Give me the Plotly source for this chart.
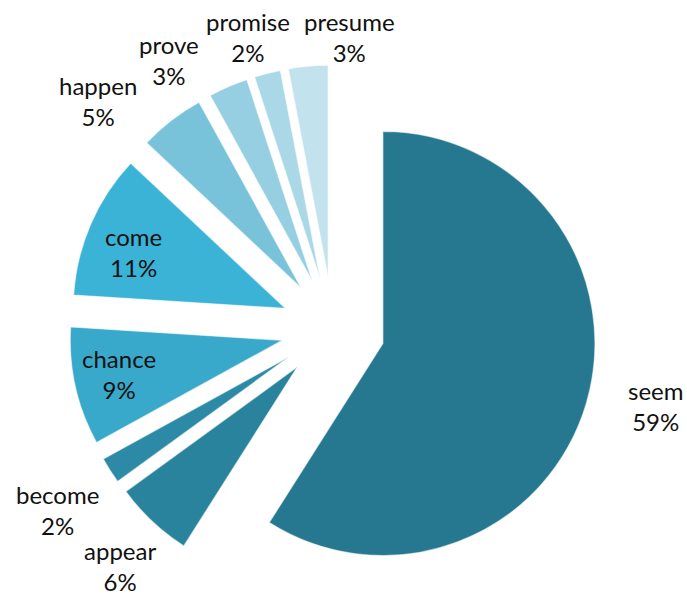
import plotly.graph_objects as go

labels = ["seem", "appear", "become", "chance", "come", "happen", "prove", "promise", "presume"]
values = [59, 6, 2, 9, 11, 5, 3, 2, 3]
colors = ["#257890", "#2a839c", "#2d8aa6", "#38a9cb", "#3bb3d7", "#79c3da", "#95cfe1", "#aad8e7", "#c2e2ed"]

# label block centers in pixels (x, y from top)
label_pos = [(655, 406), (120, 566), (57, 510), (119, 374), (133, 252),
             (98, 101), (169, 60), (248, 37), (349, 37)]

W, H = 687, 597

fig = go.Figure(go.Pie(
    labels=labels,
    values=values,
    sort=False,
    direction="clockwise",
    rotation=0,
    pull=[0.245] * len(values),
    marker=dict(colors=colors, line=dict(color="rgba(255,255,255,0.55)", width=1.2)),
    textinfo="none",
    hoverinfo="label+percent",
    showlegend=False,
    domain=dict(x=[69 / W, 597 / W], y=[1 - 593 / H, 1 - 65 / H]),
))

annotations = []
for lab, val, (px, py) in zip(labels, values, label_pos):
    annotations.append(dict(
        x=px / W, y=1 - py / H, xref="paper", yref="paper",
        text=f"{lab}<br>{val}%", showarrow=False,
        xanchor="center", yanchor="middle",
        font=dict(family="Lato, sans-serif", size=24, color="#111111"),
    ))

fig.update_layout(
    width=W, height=H,
    margin=dict(l=0, r=0, t=0, b=0),
    paper_bgcolor="white",
    plot_bgcolor="white",
    annotations=annotations,
)

fig.write_html(
    "out.html",
    config={"displayModeBar": False},
    post_script="document.body.style.margin='0';document.body.style.overflow='hidden';",
)
